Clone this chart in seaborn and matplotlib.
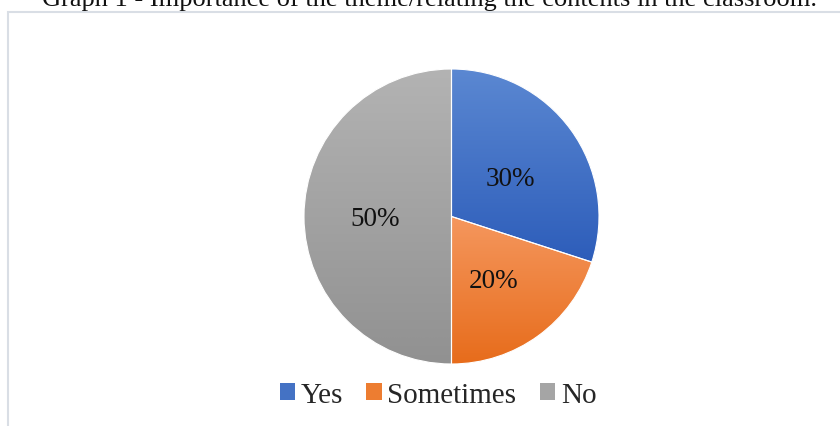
import numpy as np
import matplotlib
matplotlib.use("Agg")
import matplotlib.pyplot as plt
from matplotlib.colors import LinearSegmentedColormap
from matplotlib.patches import Rectangle, PathPatch
import seaborn as sns

# Survey answers
categories = ["Yes", "Sometimes", "No"]
shares = [30, 20, 50]
title = "Graph 1 - Importance of the theme/relating the contents in the classroom."

sns.set_theme(style="white")
plt.rcParams["font.family"] = ["Liberation Serif", "DejaVu Serif"]

# light/dark ends of each slice's vertical gradient
top_colors = ["#5b88d2", "#f5975e", "#b3b3b3"]
bottom_colors = ["#2d5dba", "#e76c1b", "#919191"]
legend_colors = sns.color_palette(["#4472c4", "#ed7d31", "#a5a5a5"])

W, H = 840, 427
fig = plt.figure(figsize=(W / 100, H / 100), dpi=100)
ax = fig.add_axes([0, 0, 1, 1])

cx, cy, r = 451.5, H - 217.5, 147.5
wedges, texts = ax.pie(
    shares, startangle=90, counterclock=False, center=(cx, cy), radius=r,
    colors=legend_colors, wedgeprops=dict(edgecolor="white", linewidth=0.8),
    frame=True,
)
ax.set_xlim(0, W)
ax.set_ylim(0, H)
ax.set_axis_off()

# vertical gradient fill clipped to each wedge
for w, c0, c1 in zip(wedges, top_colors, bottom_colors):
    verts = w.get_transform().transform(w.get_path().vertices)
    verts = ax.transData.inverted().transform(verts)
    y0, y1 = verts[:, 1].min(), verts[:, 1].max()
    x0, x1 = verts[:, 0].min(), verts[:, 0].max()
    cmap = LinearSegmentedColormap.from_list("g", [c1, c0])
    grad = np.linspace(0, 1, 256).reshape(-1, 1)
    im = ax.imshow(grad, cmap=cmap, extent=(x0, x1, y0, y1), origin="lower",
                   aspect="auto", zorder=w.get_zorder() + 0.1, interpolation="bilinear")
    im.set_clip_path(w)
    ax.add_patch(PathPatch(w.get_path(), transform=w.get_transform(),
                           facecolor="none", edgecolor="white",
                           linewidth=0.8, zorder=w.get_zorder() + 0.2))

# percentage labels inside the slices
label_pos = [(510, 180), (494, 281), (375, 220)]
for (px, py), v in zip(label_pos, shares):
    ax.text(px, H - py, f"{v}%", ha="center", va="center", fontsize=19.5,
            color="#111111", zorder=10)

# chart frame, running past the right and bottom edges
fig.patches.append(Rectangle((7.5 / W, -0.5), 2, 1.5 - 12.5 / H, transform=fig.transFigure,
                             facecolor="none", edgecolor="#d9dee5", linewidth=1.5))

fig.text(430 / W, 1 - 6 / H, title, ha="center", va="baseline", fontsize=19,
         color="#111111")

handles = [Rectangle((0, 0), 1, 1, facecolor=c, edgecolor="none") for c in legend_colors]
fig.legend(handles, categories, loc="center", bbox_to_anchor=(438 / W, 1 - 396 / H),
           ncol=3, frameon=False, fontsize=21, handlelength=0.52, handleheight=0.52,
           handletextpad=0.2, columnspacing=0.8, borderpad=0)

fig.savefig("out.png", dpi=100)
